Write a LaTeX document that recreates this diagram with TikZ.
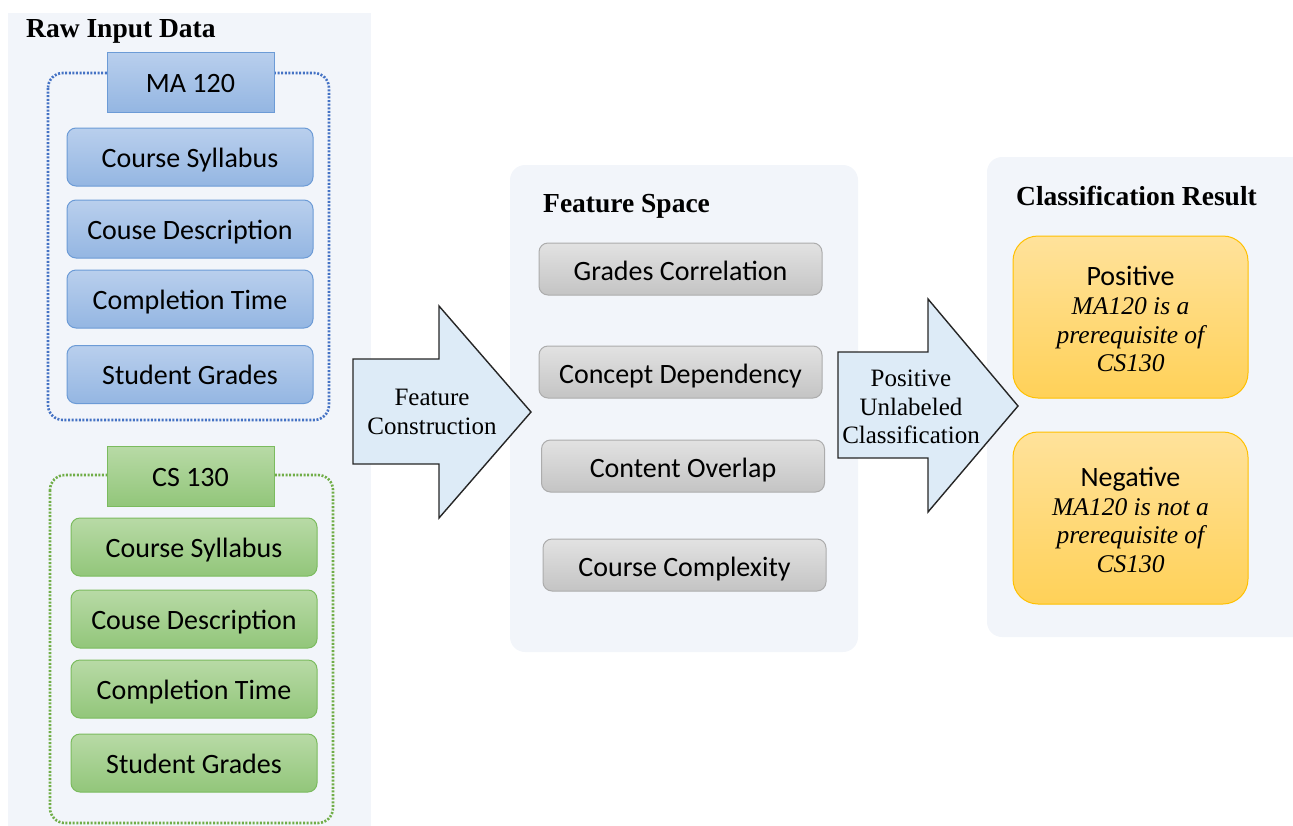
\documentclass[tikz,border=0pt]{standalone}
\usepackage{fontspec}
\setmainfont{Carlito}
\newfontfamily\serifrm{Liberation Serif}
\definecolor{panelbg}{RGB}{242,245,250}
\definecolor{bluedot}{RGB}{68,114,196}
\definecolor{greendot}{RGB}{112,173,71}
\definecolor{bluetop}{RGB}{185,207,237}
\definecolor{bluebot}{RGB}{148,182,226}
\definecolor{blueedge}{RGB}{108,155,214}
\definecolor{greentop}{RGB}{184,218,166}
\definecolor{greenbot}{RGB}{146,198,122}
\definecolor{greenedge}{RGB}{123,187,94}
\definecolor{graytop}{RGB}{226,226,226}
\definecolor{graybot}{RGB}{196,196,196}
\definecolor{grayedge}{RGB}{172,172,172}
\definecolor{orangetop}{RGB}{255,226,155}
\definecolor{orangebot}{RGB}{255,209,88}
\definecolor{orangeedge}{RGB}{255,192,0}
\definecolor{arrowfill}{RGB}{221,235,247}
\tikzset{
  panel/.style={fill=panelbg, draw=none},
  itembox/.style={line width=1pt, rounded corners=9pt, inner sep=0pt,
    text height=20pt, text depth=0pt, font=\fontsize{28}{30}\selectfont},
  bluebox/.style={itembox, draw=blueedge, top color=bluetop, bottom color=bluebot,
    minimum width=246pt, minimum height=58pt},
  greenbox/.style={itembox, draw=greenedge, top color=greentop, bottom color=greenbot,
    minimum width=246pt, minimum height=58pt},
  bluehead/.style={bluebox, rounded corners=0pt, minimum width=167pt, minimum height=60pt},
  greenhead/.style={greenbox, rounded corners=0pt, minimum width=167pt, minimum height=60pt},
  graybox/.style={itembox, draw=grayedge, top color=graytop, bottom color=graybot,
    text height=23pt, minimum width=283pt, minimum height=52pt},
  resultbox/.style={line width=1pt, draw=orangeedge, top color=orangetop, bottom color=orangebot,
    rounded corners=25pt, minimum width=235pt, inner sep=0pt},
  resulthead/.style={anchor=base, inner sep=0pt, font=\fontsize{28}{30}\selectfont},
  resultline/.style={anchor=base, inner sep=0pt, font=\serifrm\itshape\fontsize{25.5}{28}\selectfont},
  blockarrow/.style={fill=arrowfill, draw=black!85, line width=1.4pt, line join=miter},
  arrowtext/.style={align=center, font=\serifrm\fontsize{25}{29}\selectfont},
  paneltitle/.style={anchor=base west, inner sep=0pt, font=\serifrm\bfseries\fontsize{27.5}{29}\selectfont},
  dotbox/.style={line width=2.6pt, dash pattern=on 2pt off 1.6pt, rounded corners=15pt}
}
\begin{document}
\begin{tikzpicture}[x=1pt,y=-1pt]
\useasboundingbox (0,0) rectangle (1293,825);
\clip (0,0) rectangle (1293,825);
% panels
\fill[panel] (8,13) rectangle (371,830);
\fill[panel, rounded corners=15pt] (510,165) rectangle (858,652);
\fill[panel, rounded corners=15pt] (987,157) rectangle (1320,637);
% titles
\node[paneltitle] (t1) at (26,37) {Raw Input Data};
\node[paneltitle] (t2) at (543,212) {Feature Space};
\node[paneltitle] (t3) at (1016,205) {Classification Result};
% MA 120 group
\draw[dotbox, bluedot] (48,73) rectangle (329,420);
\node[bluehead] (ma) at (190.5,82) {MA 120};
\node[bluebox] (ma1) at (190,157) {Course Syllabus};
\node[bluebox] (ma2) at (190,229) {Couse Description};
\node[bluebox] (ma3) at (190,299) {Completion Time};
\node[bluebox] (ma4) at (190,374.5) {Student Grades};
% CS 130 group
\draw[dotbox, greendot] (50,475) rectangle (333,823);
\node[greenhead] (cs) at (190.5,476) {CS 130};
\node[greenbox] (cs1) at (194,547) {Course Syllabus};
\node[greenbox] (cs2) at (194,619) {Couse Description};
\node[greenbox] (cs3) at (194,689) {Completion Time};
\node[greenbox] (cs4) at (194,763) {Student Grades};
% arrow 1
\draw[blockarrow] (353,359) -- (439,359) -- (439,306) -- (531,412) -- (439,518) -- (439,464) -- (353,464) -- cycle;
\node[arrowtext] (a1) at (432,412) {Feature\\Construction};
% features
\node[graybox] (f1) at (680.5,269) {Grades Correlation};
\node[graybox] (f2) at (680.5,372) {Concept Dependency};
\node[graybox] (f3) at (683,466) {Content Overlap};
\node[graybox] (f4) at (684.5,565) {Course Complexity};
% arrow 2
\draw[blockarrow] (838,352) -- (928,352) -- (928,299) -- (1018,406) -- (928,512) -- (928,458) -- (838,458) -- cycle;
\node[arrowtext, font=\serifrm\fontsize{25}{28.5}\selectfont] (a2) at (911,407) {Positive\\Unlabeled\\Classification};
% results
\node[resultbox, minimum height=162pt] (pos) at (1130.5,317) {};
\node[resultbox, minimum height=172pt] (neg) at (1130.5,518) {};
\node[resulthead] (p0) at (1130.5,285) {Positive};
\node[resultline] (p1) at (1130.5,314) {MA120 is a};
\node[resultline] (p2) at (1130.5,343) {prerequisite of};
\node[resultline] (p3) at (1130.5,371) {CS130};
\node[resulthead] (n0) at (1130.5,486) {Negative};
\node[resultline] (n1) at (1130.5,515) {MA120 is not a};
\node[resultline] (n2) at (1130.5,543) {prerequisite of};
\node[resultline] (n3) at (1130.5,572) {CS130};
\end{tikzpicture}
\end{document}
